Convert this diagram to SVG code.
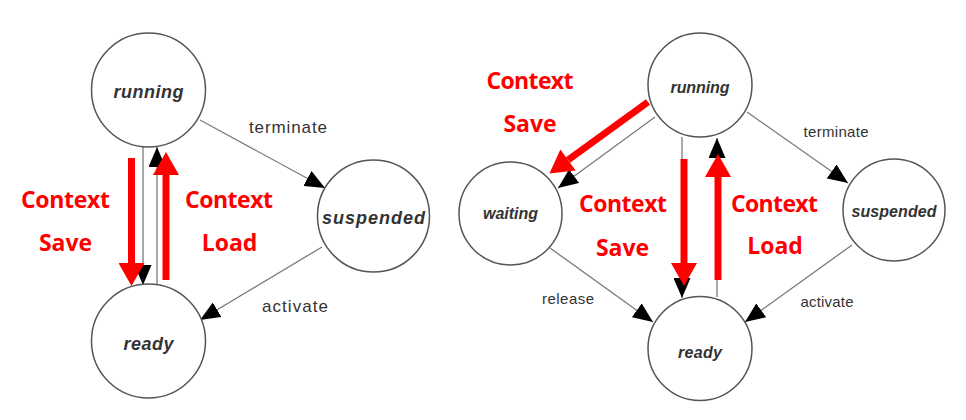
<svg xmlns="http://www.w3.org/2000/svg" width="966" height="420" viewBox="0 0 966 420">
<style>
.node{fill:#fff;stroke:#555;stroke-width:1.5}
.nl{font-family:"Liberation Sans",Arial,sans-serif;font-weight:bold;font-style:italic;fill:#333;text-anchor:middle}
.el{font-family:"Liberation Sans",Arial,sans-serif;fill:#333;text-anchor:middle}
.edge{stroke:#7a7a7a;stroke-width:1.3;fill:none;marker-end:url(#ah)}
.red{stroke:#ff0000;stroke-width:7;fill:none;marker-end:url(#rh)}
.rt{font-family:"Open Sans","Noto Sans",sans-serif;font-weight:bold;fill:#ff0000;font-size:23px;text-anchor:middle}
</style>
<defs>
<marker id="ah" markerUnits="userSpaceOnUse" markerWidth="20" markerHeight="17" refX="20" refY="8.5" orient="auto" viewBox="0 0 20 17">
<path d="M0,0 L20,8.5 L0,17 z" fill="#000"/>
</marker>
<marker id="rh" markerUnits="userSpaceOnUse" markerWidth="24" markerHeight="26" refX="0" refY="12.5" orient="auto" viewBox="0 0 22 25">
<path d="M0,0 L22,12.5 L0,25 z" fill="#ff0000"/>
</marker>
</defs>
<rect width="966" height="420" fill="#fff"/>

<g id="connectors">
<line class="edge" x1="143" y1="147" x2="143" y2="285"/>
<line class="edge" x1="157" y1="285" x2="157" y2="147"/>
<line class="edge" x1="200" y1="120" x2="325" y2="188"/>
<line class="edge" x1="322" y1="247" x2="200" y2="320"/>
<line class="edge" x1="655" y1="117" x2="558" y2="188"/>
<line class="edge" x1="682" y1="137" x2="682" y2="298"/>
<line class="edge" x1="717" y1="297" x2="717" y2="138"/>
<line class="edge" x1="747" y1="112" x2="848" y2="183"/>
<line class="edge" x1="852" y1="245" x2="745" y2="322"/>
<line class="edge" x1="550" y1="248" x2="653" y2="322"/>
<text class="el" x="288" y="133" font-size="17" textLength="78" lengthAdjust="spacing">terminate</text>
<text class="el" x="295" y="312" font-size="17" textLength="66" lengthAdjust="spacing">activate</text>
<text class="el" x="836" y="137" font-size="15" textLength="65" lengthAdjust="spacing">terminate</text>
<text class="el" x="827" y="307" font-size="15" textLength="53" lengthAdjust="spacing">activate</text>
<text class="el" x="568" y="304" font-size="15" textLength="52" lengthAdjust="spacing">release</text>
</g>

<g id="context-switch">
<line class="red" x1="131.5" y1="158" x2="131.5" y2="263"/>
<line class="red" x1="166" y1="280" x2="166" y2="175"/>
<line class="red" x1="684" y1="159" x2="684" y2="263"/>
<line class="red" x1="718" y1="280" x2="718" y2="177"/>
<line class="red" x1="648" y1="102" x2="568" y2="160"/>
<text class="rt" x="65.5" y="208" textLength="89" lengthAdjust="spacing">Context</text>
<text class="rt" x="65.5" y="251">Save</text>
<text class="rt" x="229" y="208" textLength="88" lengthAdjust="spacing">Context</text>
<text class="rt" x="229.5" y="251">Load</text>
<text class="rt" x="530" y="89" textLength="87" lengthAdjust="spacing">Context</text>
<text class="rt" x="530" y="132">Save</text>
<text class="rt" x="623" y="212" textLength="88" lengthAdjust="spacing">Context</text>
<text class="rt" x="622.5" y="256">Save</text>
<text class="rt" x="774.5" y="211.5" textLength="87" lengthAdjust="spacing">Context</text>
<text class="rt" x="775" y="254">Load</text>
</g>

<g id="left-running"><circle class="node" cx="148.5" cy="90" r="57"/><text class="nl" x="148.5" y="98" font-size="18" textLength="70" lengthAdjust="spacing">running</text></g>
<g id="left-ready"><circle class="node" cx="148.5" cy="341" r="57"/><text class="nl" x="148.5" y="350" font-size="18" textLength="50" lengthAdjust="spacing">ready</text></g>
<g id="left-suspended"><circle class="node" cx="373.5" cy="216" r="56"/><text class="nl" x="373.5" y="224" font-size="18" textLength="103" lengthAdjust="spacing">suspended</text></g>

<g id="right-running"><circle class="node" cx="700" cy="85" r="52"/><text class="nl" x="700" y="93" font-size="16" textLength="59" lengthAdjust="spacing">running</text></g>
<g id="right-waiting"><circle class="node" cx="510.5" cy="213.5" r="51.5"/><text class="nl" x="510.5" y="219" font-size="16" textLength="55" lengthAdjust="spacing">waiting</text></g>
<g id="right-suspended"><circle class="node" cx="894" cy="210" r="51"/><text class="nl" x="894" y="217" font-size="16" textLength="85" lengthAdjust="spacing">suspended</text></g>
<g id="right-ready"><circle class="node" cx="700" cy="348.5" r="52"/><text class="nl" x="700" y="358" font-size="16" textLength="44" lengthAdjust="spacing">ready</text></g>
</svg>
